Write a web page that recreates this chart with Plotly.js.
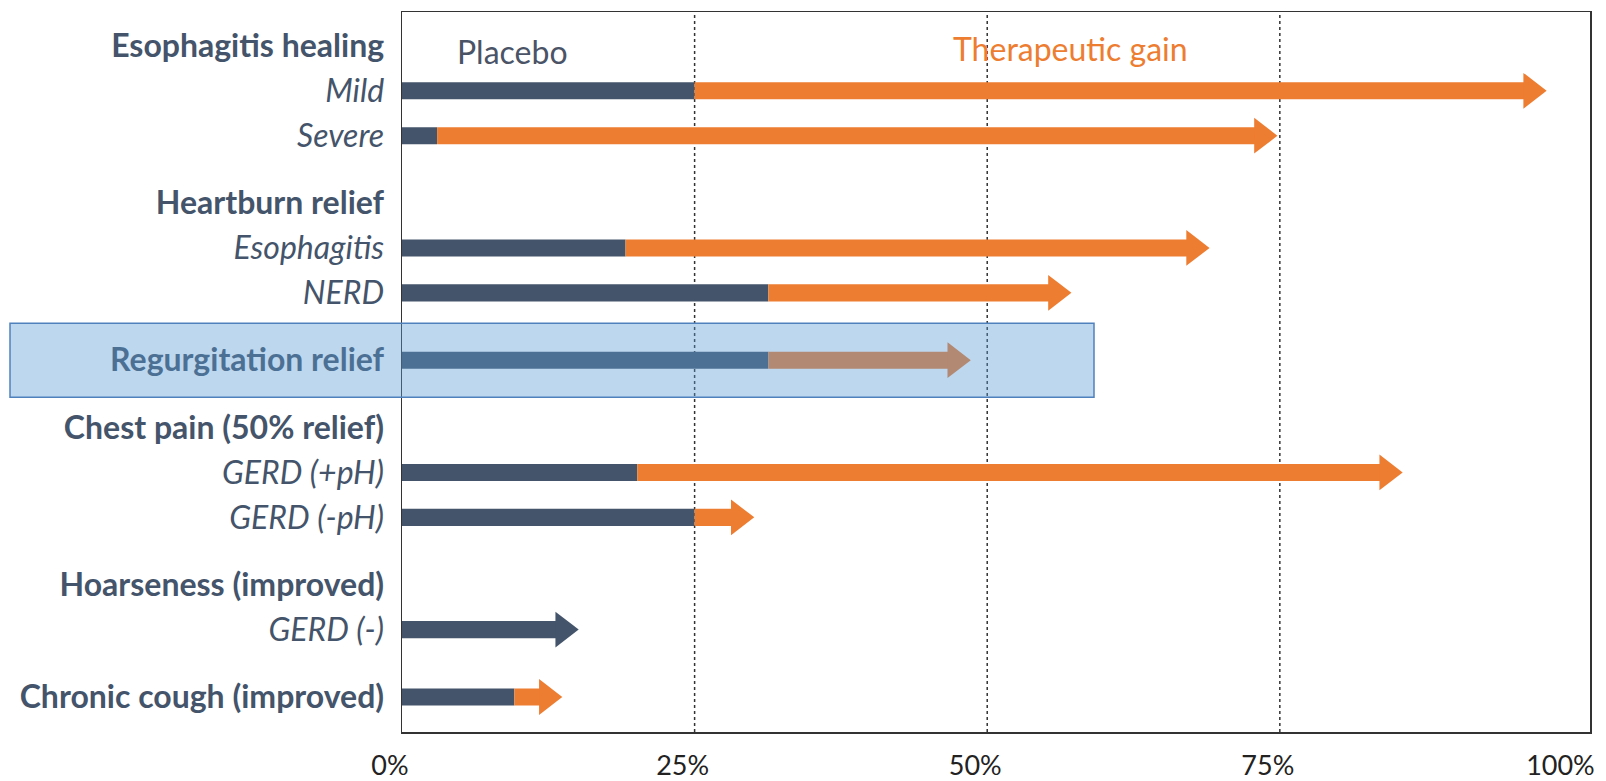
<!DOCTYPE html>
<html>
<head>
<meta charset="utf-8">
<script src="https://cdn.plot.ly/plotly-3.0.1.min.js"></script>
<style>
  html, body { margin: 0; padding: 0; background: #ffffff; }
  #chart { width: 1606px; height: 781px; }
</style>
</head>
<body>
<div id="chart"></div>
<script>
// ---------------- data ----------------
const categories = [
  'Esophagitis healing', 'Mild', 'Severe',
  'Heartburn relief', 'Esophagitis', 'NERD',
  'Regurgitation relief',
  'Chest pain (50% relief)', 'GERD (+pH)', 'GERD (-pH)',
  'Hoarseness (improved)', 'GERD (-)',
  'Chronic cough (improved)'
];
const isHeader = [true, false, false, true, false, false, true, true, false, false, true, false, true];
// placebo response (%) and total response = placebo + therapeutic gain (%)
const placeboPct = [null, 25, 3, null, 19.1, 31.3, 31.3, null, 20.1, 25, null, 15.3, 9.6];
const totalPct   = [null, 98, 75, null, 69.2, 57.4, 48.8, null, 85.7, 30.3, null, 15.3, 13.9];
const xTickVals   = [0, 25, 50, 75, 100];
const xTickLabels = ['0%', '25%', '50%', '75%', '100%'];
const gridVals    = [25, 50, 75];
const highlighted = 'Regurgitation relief';

// ---------------- layout constants ----------------
const W = 1606, H = 781;
const M = { l: 402, r: 16, t: 12, b: 49 };
const X_MAX = 101.5;
const pxPerUnit = (W - M.l - M.r) / X_MAX;
const HEAD_SIZE = 31;                               // triangle-right marker size (px)
const tipOffsetU = (HEAD_SIZE / Math.sqrt(3)) / pxPerUnit; // centre -> tip distance in data units
const gapBefore = [0, 2, 2, 3, 2, 2, 3, 3, 2, 2, 3, 2, 3]; // half-row spacing units
const FONT = 'Lato, "Open Sans", sans-serif';
const DARK = '#44546a', ORANGE = '#ed7d31';

// category slots (with invisible spacer slots for vertical spacing)
const slots = [];
categories.forEach((c, i) => {
  for (let k = 1; k < gapBefore[i]; k++) slots.push('__gap' + slots.length);
  slots.push(c);
});
const tickText = categories.map((c, i) => isHeader[i] ? '<b>' + c + '</b>' : '<i>' + c + '</i>');

// rows with bars
const rowsY = [], pl = [], tot = [];
categories.forEach((c, i) => {
  if (totalPct[i] !== null) { rowsY.push(c); pl.push(placeboPct[i]); tot.push(totalPct[i]); }
});
const gainY = [], gainBase = [], gainLen = [];
rowsY.forEach((c, i) => {
  if (tot[i] > pl[i]) { gainY.push(c); gainBase.push(pl[i]); gainLen.push(tot[i] - tipOffsetU - pl[i]); }
});

const traces = [
  {
    type: 'bar', orientation: 'h', y: rowsY,
    x: pl.map((p, i) => Math.min(p, tot[i] - tipOffsetU)), base: 0,
    width: 0.76, marker: { color: DARK, line: { width: 0 } }, hoverinfo: 'skip', showlegend: false
  },
  {
    type: 'bar', orientation: 'h', y: gainY, x: gainLen, base: gainBase,
    width: 0.76, marker: { color: ORANGE, line: { width: 0 } }, hoverinfo: 'skip', showlegend: false
  },
  {
    type: 'scatter', mode: 'markers', y: rowsY, x: tot.map(t => t - tipOffsetU),
    marker: {
      symbol: 'triangle-right', size: HEAD_SIZE,
      color: rowsY.map((c, i) => tot[i] > pl[i] ? ORANGE : DARK),
      line: { width: 0 }
    },
    hoverinfo: 'skip', showlegend: false, cliponaxis: false
  }
];

const regSlot = slots.indexOf(highlighted);
const shapes = gridVals.map(v => ({
  type: 'line', xref: 'x', yref: 'paper', x0: v, x1: v, y0: 0, y1: 1,
  line: { color: '#333333', width: 1.5, dash: 'dot' }, layer: 'below'
}));
shapes.push({
  type: 'rect', xref: 'paper', yref: 'y',
  x0: (10 - M.l) / (W - M.l - M.r), x1: (1094 - M.l) / (W - M.l - M.r),
  y0: regSlot - 1.65, y1: regSlot + 1.65,
  fillcolor: 'rgba(91,155,213,0.4)', line: { color: '#4f81bd', width: 1.5 }, layer: 'above'
});

const plotH = H - M.t - M.b;
const layout = {
  width: W, height: H, margin: M,
  paper_bgcolor: '#ffffff', plot_bgcolor: '#ffffff',
  barmode: 'overlay', showlegend: false,
  font: { family: FONT, color: DARK },
  xaxis: {
    range: [0, X_MAX], tickmode: 'array', tickvals: xTickVals, ticktext: xTickLabels,
    showgrid: false, zeroline: false, ticks: '',
    showline: true, mirror: true, linecolor: '#333333', linewidth: 1.5,
    tickfont: { family: FONT, size: 27, color: '#222222' },
    ticklabelshift: -12, ticklabelstandoff: 9, fixedrange: true
  },
  yaxis: {
    type: 'category', categoryorder: 'array', categoryarray: slots,
    range: [30.56, -1.51], autorange: false,
    tickmode: 'array', tickvals: categories, ticktext: tickText,
    showgrid: false, zeroline: false, ticks: '',
    showline: true, mirror: true, linecolor: '#333333', linewidth: 1.5,
    tickfont: { family: FONT, size: 32, color: DARK },
    ticklabelstandoff: 10, fixedrange: true
  },
  shapes: shapes,
  annotations: [
    {
      text: 'Placebo', xref: 'paper', yref: 'paper',
      x: (512 - M.l) / (W - M.l - M.r), y: (H - M.b - 51) / plotH,
      xanchor: 'center', yanchor: 'middle', showarrow: false,
      font: { family: FONT, size: 32, color: '#4a5466' }
    },
    {
      text: 'Therapeutic gain', xref: 'paper', yref: 'paper',
      x: (1070 - M.l) / (W - M.l - M.r), y: (H - M.b - 48) / plotH,
      xanchor: 'center', yanchor: 'middle', showarrow: false,
      font: { family: FONT, size: 32, color: ORANGE }
    }
  ]
};

Plotly.newPlot('chart', traces, layout, { staticPlot: true, displayModeBar: false });
</script>
</body>
</html>
